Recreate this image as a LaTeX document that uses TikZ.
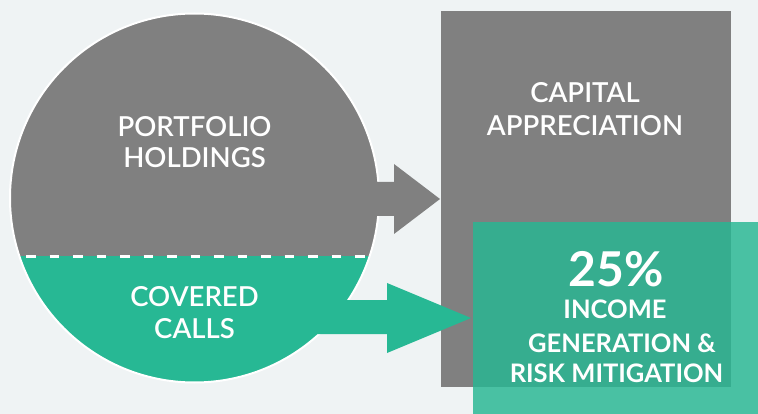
\documentclass[tikz,border=0pt]{standalone}
\usepackage{fontspec}
\setmainfont{Lato Semibold}
\newfontfamily\latobold{Lato Bold}
\definecolor{bgc}{RGB}{239,243,244}
\definecolor{graya}{RGB}{128,128,128}
\definecolor{greena}{RGB}{39,184,148}
\definecolor{greenb}{RGB}{40,183,147}
\begin{document}
\begin{tikzpicture}[x=1pt,y=-1pt,
  lbl/.style={text=white,inner sep=0pt,anchor=base,font=\fontsize{27.5}{30}\selectfont},
  blbl/.style={text=white,inner sep=0pt,anchor=base,font=\latobold\fontsize{25.5}{28}\selectfont}]
\fill[bgc] (0,0) rectangle (758,414);
\useasboundingbox (0,0) rectangle (758,414);
% capital appreciation box
\node[fill=graya,minimum width=290pt,minimum height=376pt,inner sep=0pt,anchor=north west] (cap) at (441,11) {};
% circle
\node[circle,fill=graya,minimum size=369pt,inner sep=0pt] (circ) at (194.5,198) {};
\begin{scope}
  \clip (194.5,198) circle (184.5);
  \fill[greena] (0,256.5) rectangle (400,400);
\end{scope}
\coordinate (d1) at (26,256.5);
\coordinate (d2) at (370,256.5);
\draw[white,line width=3pt,dash pattern=on 9.5pt off 14pt] (d1) -- (d2);
\draw[white,line width=2pt] (circ.center) circle (184.5);
% arrows
\fill[graya] (330,182) -- (394,182) -- (394,164) -- (440,199) -- (394,234) -- (394,216) -- (330,216) -- cycle;
\fill[greena] (300,300) -- (387,300) -- (387,283) -- (471,318) -- (387,353) -- (387,334) -- (300,334) -- cycle;
% income box
\fill[greenb,fill opacity=0.83] (473,222) rectangle (758,414);
% texts
\node[lbl] (p1) at (194.5,137) {PORTFOLIO};
\node[lbl] (p2) at (194.5,168) {HOLDINGS};
\node[lbl] (c1) at (194.5,306) {COVERED};
\node[lbl] (c2) at (194.5,338) {CALLS};
\node[lbl] (a1) at (585,103) {CAPITAL};
\node[lbl] (a2) at (585,136) {APPRECIATION};
\node[blbl,font=\latobold\fontsize{48}{50}\selectfont] (i0) at (616.5,287) {25\%};
\node[blbl] (i1) at (615,318.5) {INCOME};
\node[blbl] (i2) at (622,352) {GENERATION \&};
\node[blbl] (i3) at (616.5,382) {RISK MITIGATION};
\end{tikzpicture}
\end{document}
